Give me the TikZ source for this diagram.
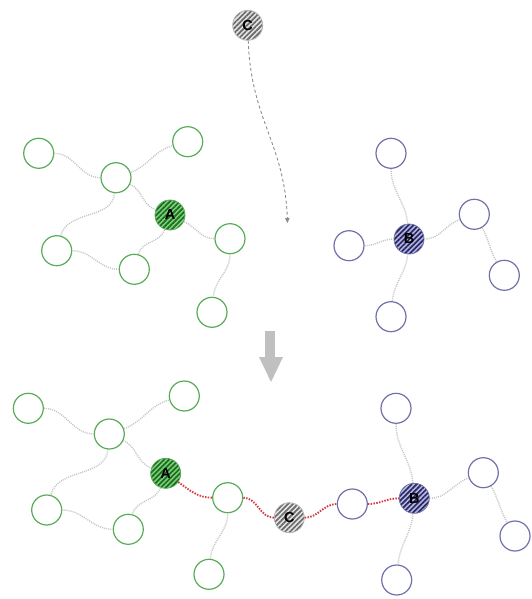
\documentclass[tikz,border=0pt]{standalone}
\usepackage{fontspec}
\setmainfont{Liberation Sans}
\usetikzlibrary{patterns.meta,arrows.meta}
\definecolor{gstroke}{RGB}{88,172,88}
\definecolor{gbase}{RGB}{130,205,130}
\definecolor{ghatch}{RGB}{25,110,25}
\definecolor{bstroke}{RGB}{112,112,170}
\definecolor{bbase}{RGB}{185,185,220}
\definecolor{bhatch}{RGB}{40,40,105}
\definecolor{cbase}{RGB}{228,228,228}
\definecolor{chatch}{RGB}{105,105,105}
\definecolor{linkgray}{RGB}{195,195,195}
\definecolor{redlink}{RGB}{212,60,70}
\definecolor{arrowgray}{RGB}{192,192,192}
\tikzset{
  gnode/.style={circle, draw=gstroke, line width=1.2pt, minimum size=30pt, inner sep=0pt, fill=white},
  bnode/.style={circle, draw=bstroke, line width=1.2pt, minimum size=30pt, inner sep=0pt, fill=white},
  hub/.style={circle, line width=0.8pt, minimum size=30pt, inner sep=0pt,
    font=\fontsize{14.5}{14.5}\selectfont\bfseries},
  anode/.style={hub, draw=gstroke, preaction={fill=gbase},
    pattern={Lines[angle=45,distance=3.5pt,line width=1.7pt]}, pattern color=ghatch},
  bhub/.style={hub, draw=bstroke, preaction={fill=bbase},
    pattern={Lines[angle=45,distance=3.5pt,line width=1.7pt]}, pattern color=bhatch},
  cnode/.style={hub, draw=cbase!80!black, preaction={fill=cbase},
    pattern={Lines[angle=45,distance=3.5pt,line width=1.7pt]}, pattern color=chatch},
  link/.style={draw=linkgray, line width=1.4pt, dash pattern=on 1pt off 1.1pt},
  redl/.style={draw=redlink, line width=1.9pt, dash pattern=on 1.5pt off 1.3pt},
  move/.style={draw=gray!90, line width=0.9pt, dash pattern=on 3pt off 2.5pt,
    -{Triangle[length=5pt,width=4.5pt]}},
}
\begin{document}
\begin{tikzpicture}[x=1pt,y=-1pt]
\useasboundingbox (0,0) rectangle (532,599);
% ---------- top: before ----------
\node[gnode] (tg1) at (38.7,153.3) {};
\node[gnode] (tg2) at (187.7,141.7) {};
\node[gnode] (tg3) at (116,177.7) {};
\node[gnode] (tg5) at (56.7,250.7) {};
\node[gnode] (tg6) at (134.3,269.3) {};
\node[gnode] (tg7) at (230,238.7) {};
\node[gnode] (tg8) at (212,312.3) {};
\node[anode] (tA) at (170,215) {A};
\node[bnode] (tb1) at (391,153.3) {};
\node[bnode] (tb3) at (349,245.7) {};
\node[bnode] (tb4) at (474.3,214.3) {};
\node[bnode] (tb5) at (504.3,275.3) {};
\node[bnode] (tb6) at (391,316.7) {};
\node[bhub] (tB) at (409,239) {B};
\node[cnode] (tC) at (247.7,25.3) {C};
\coordinate (tCend) at (287.5,223);

\draw[link] (tg1) to[out=0,in=180] (tg3);
\draw[link] (tg3) to[out=20,in=195] (tg2);
\draw[link] (tg3) to[out=-25,in=160] (tA);
\draw[link] (tg3) to[out=-95,in=75] (tg5);
\draw[link] (tA) to[out=-110,in=75] (tg6);
\draw[link] (tg5) to[out=0,in=180] (tg6);
\draw[link] (tA) to[out=-25,in=180] (tg7);
\draw[link] (tg7) to[out=-90,in=85] (tg8);
\draw[link] (tb1) to[out=-90,in=95] (tB);
\draw[link] (tb3) to[out=0,in=180] (tB);
\draw[link] (tB) to[out=0,in=200] (tb4);
\draw[link] (tb4) to[out=-60,in=120] (tb5);
\draw[link] (tB) to[out=-95,in=85] (tb6);
\draw[move] (tC) to[out=-88,in=92,looseness=1.1] (tCend);

% ---------- arrow ----------
\fill[arrowgray] (264.5,331) rectangle (275,357);
\fill[arrowgray] (259,357) -- (283,357) -- (271,382) -- cycle;

% ---------- bottom: after ----------
\node[gnode] (g1) at (28.3,408.3) {};
\node[gnode] (g2) at (184.3,396) {};
\node[gnode] (g3) at (109.3,434) {};
\node[gnode] (g5) at (46.7,510) {};
\node[gnode] (g6) at (128.3,529.3) {};
\node[gnode] (g7) at (227.7,497.7) {};
\node[gnode] (g8) at (209,574.3) {};
\node[anode] (A) at (165.7,473.3) {A};
\node[cnode] (C) at (289.3,517.7) {C};
\node[bnode] (b1) at (396,408.3) {};
\node[bnode] (b3) at (352.3,504) {};
\node[bnode] (b4) at (483.3,472.7) {};
\node[bnode] (b5) at (515,536) {};
\node[bnode] (b6) at (396.7,580) {};
\node[bhub] (B) at (414.3,498.3) {B};

\draw[link] (g1) to[out=0,in=180] (g3);
\draw[link] (g3) to[out=20,in=195] (g2);
\draw[link] (g3) to[out=-25,in=160] (A);
\draw[link] (g3) to[out=-95,in=75] (g5);
\draw[link] (A) to[out=-110,in=75] (g6);
\draw[link] (g5) to[out=0,in=180] (g6);
\draw[link] (g7) to[out=-90,in=85] (g8);
\draw[link] (b1) to[out=-90,in=95] (B);
\draw[link] (B) to[out=0,in=200] (b4);
\draw[link] (b4) to[out=-60,in=120] (b5);
\draw[link] (B) to[out=-95,in=85] (b6);
\draw[redl] (A) to[out=-35,in=180] (g7);
\draw[redl] (g7) to[out=0,in=180] (C);
\draw[redl] (C) to[out=0,in=180] (b3);
\draw[redl] (b3) to[out=0,in=180] (B);
\end{tikzpicture}
\end{document}
